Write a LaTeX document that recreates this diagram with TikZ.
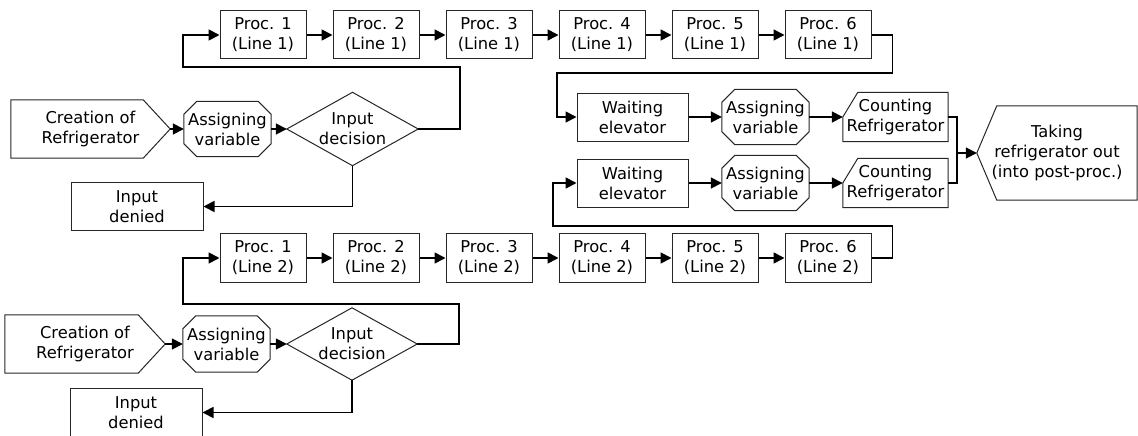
\documentclass[tikz,border=0pt]{standalone}
\usepackage{fontspec}
\setmainfont{DejaVu Sans}
\usetikzlibrary{arrows.meta,positioning,calc}

\begin{document}
\begin{tikzpicture}[x=1pt,y=-1pt,
  every node/.style={font=\fontsize{16.3pt}{20pt}\selectfont, align=center, inner sep=0pt},
  proc/.style={draw=black!85, line width=1pt, minimum width=86pt, minimum height=48pt},
  creationbox/.style={minimum width=159pt, minimum height=58pt},
  assignbox/.style={minimum width=87pt, minimum height=55pt},
  decisionbox/.style={minimum width=131pt, minimum height=73pt},
  countbox/.style={minimum width=105pt, minimum height=49pt},
  takebox/.style={minimum width=160pt, minimum height=94pt},
  outline/.style={draw=black!85, line width=1pt},
  wire/.style={line width=1.7pt},
  flow/.style={wire, -{Triangle[length=11pt,width=11pt]}}]
  \useasboundingbox (0,0) rectangle (1138,436);

  % line 1: input side
  \node[creationbox] (cre1) at (90.5,129) {Creation of\\Refrigerator};
  \node[assignbox] (var1) at (227.5,129) {Assigning\\variable};
  \node[decisionbox] (dec1) at (352.5,129) {Input\\decision};
  \node[proc, minimum width=132pt] (den1) at (137,206.5) {Input\\denied};

  % line 2: input side
  \node[creationbox, minimum width=160pt] (cre2) at (85,344) {Creation of\\Refrigerator};
  \node[assignbox, minimum height=56pt] (var2) at (226.5,344) {Assigning\\variable};
  \node[decisionbox, minimum width=130pt, minimum height=72pt] (dec2) at (352,344) {Input\\decision};
  \node[proc, minimum width=132pt, minimum height=49pt] (den2) at (136,412.5) {Input\\denied};

  % processes of both lines
  \foreach \i in {1,...,6} {
    \node[proc] (l1p\i) at ({263+113*(\i-1)},35) {Proc. \i\\(Line 1)};
    \node[proc, minimum height=49pt] (l2p\i) at ({263+113*(\i-1)},258) {Proc. \i\\(Line 2)};
  }

  % elevators and counting
  \node[proc, minimum width=111pt] (elv1) at (632.5,117) {Waiting\\elevator};
  \node[assignbox] (evar1) at (765.5,117) {Assigning\\variable};
  \node[countbox] (cnt1) at (895.5,117) {Counting\\Refrigerator};
  \node[proc, minimum width=111pt] (elv2) at (632.5,183) {Waiting\\elevator};
  \node[assignbox] (evar2) at (765.5,183) {Assigning\\variable};
  \node[countbox] (cnt2) at (895.5,183) {Counting\\Refrigerator};
  \node[takebox] (take) at (1057,153) {Taking\\refrigerator out\\(into post-proc.)};

  % outlines of the special shapes
  \foreach \n in {cre1,cre2}
    \draw[outline] (\n.north west) -- ([xshift=-27pt]\n.north east) -- (\n.east)
      -- ([xshift=-27pt]\n.south east) -- (\n.south west) -- cycle;
  \foreach \n in {var1,var2,evar1,evar2}
    \draw[outline] ([xshift=13pt]\n.north west) -- ([xshift=-13pt]\n.north east)
      -- ([yshift=-13pt]\n.north east) -- ([yshift=13pt]\n.south east)
      -- ([xshift=-13pt]\n.south east) -- ([xshift=13pt]\n.south west)
      -- ([yshift=13pt]\n.south west) -- ([yshift=-13pt]\n.north west) -- cycle;
  \foreach \n in {dec1,dec2}
    \draw[outline] (\n.west) -- (\n.north) -- (\n.east) -- (\n.south) -- cycle;
  \foreach \n in {cnt1,cnt2}
    \draw[outline] ([xshift=15pt]\n.north west) -- (\n.north east) -- (\n.south east)
      -- (\n.south west) -- (\n.west) -- cycle;
  \draw[outline] (take.west) -- ([xshift=20pt]take.north west) -- (take.north east)
    -- (take.south east) -- ([xshift=20pt]take.south west) -- cycle;

  % input flow
  \draw[flow] (cre1.east) -- (var1.west);
  \draw[flow] (var1.east) -- (dec1.west);
  \draw[flow] (dec1.south) |- (den1.east);
  \draw[flow] (dec1.east) -- ++(42,0) |- (183,67) |- (l1p1.west);
  \draw[flow] (cre2.east) -- (var2.west);
  \draw[flow] (var2.east) -- (dec2.west);
  \draw[flow] (dec2.south) |- (den2.east);
  \draw[flow] (dec2.east) -- ++(42,0) |- (183,304) |- (l2p1.west);

  % along the lines
  \foreach \i [count=\j from 2] in {1,...,5} {
    \draw[flow] (l1p\i) -- (l1p\j);
    \draw[flow] (l2p\i) -- (l2p\j);
  }
  \draw[flow] (l1p6.east) -- ++(21,0) |- (557,73) |- (elv1.west);
  \draw[flow] (l2p6.east) -- ++(21,0) |- (553,226) |- (elv2.west);

  % to the elevator and out
  \draw[flow] (elv1) -- (evar1);
  \draw[flow] (evar1.east) -- (cnt1.west);
  \draw[flow] (elv2) -- (evar2);
  \draw[flow] (evar2.east) -- (cnt2.west);
  \coordinate (join) at (957,153);
  \draw[wire] (cnt1.east) -| (join) |- (cnt2.east);
  \draw[flow] (join) -- (take.west);
\end{tikzpicture}
\end{document}
